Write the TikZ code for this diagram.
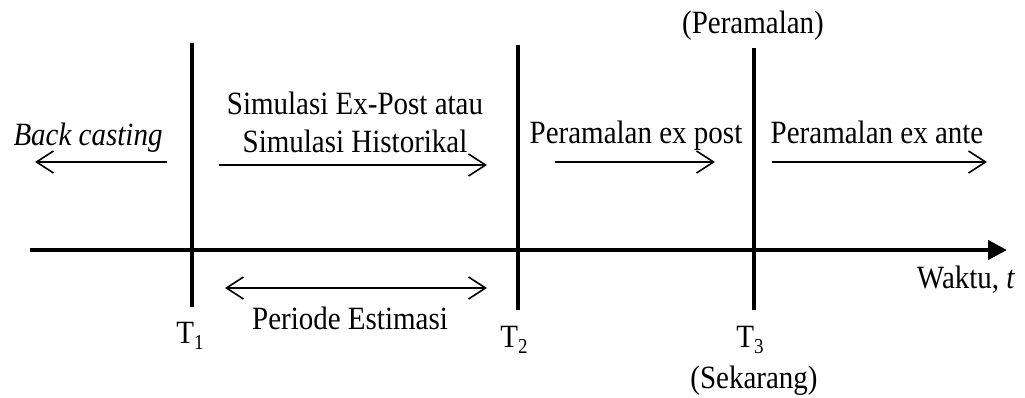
\documentclass[tikz,border=0pt]{standalone}
\usepackage{fontspec}
\usepackage{graphicx}
\setmainfont{Liberation Serif}
\usetikzlibrary{arrows.meta}
\tikzset{
  lbl/.style={anchor=base, inner sep=0pt, font=\fontsize{29}{33}\selectfont},
  period/.style={line width=1.6pt, -{Straight Barb[length=17pt,width=22pt,line width=1.6pt]}},
  twoway/.style={line width=1.6pt, {Straight Barb[length=17pt,width=22pt,line width=1.6pt]}-{Straight Barb[length=17pt,width=22pt,line width=1.6pt]}},
  mark line/.style={line width=3.5pt},
  axis/.style={line width=4.5pt, -{Triangle[length=19pt,width=19pt]}}
}
% slightly tall lettering
\newcommand{\tall}[1]{\scalebox{1}[1.12]{#1}}
\newcommand{\Tsub}[1]{\tall{T\raisebox{-6pt}{\fontsize{19}{19}\selectfont #1}}}
\begin{document}
\begin{tikzpicture}[x=1pt,y=-1pt]
  \useasboundingbox (0,0) rectangle (1025,397);

  % time axis
  \coordinate (ax0) at (30,250);
  \coordinate (ax1) at (1007,250);
  \draw[axis] (ax0) -- (ax1);

  % markers T1, T2, T3
  \coordinate (t1top) at (192,43);  \coordinate (t1bot) at (192,307);
  \coordinate (t2top) at (518,45);  \coordinate (t2bot) at (518,310);
  \coordinate (t3top) at (754,48);  \coordinate (t3bot) at (754,310);
  \draw[mark line] (t1top) -- (t1bot);
  \draw[mark line] (t2top) -- (t2bot);
  \draw[mark line] (t3top) -- (t3bot);

  % period arrows
  \coordinate (bc0) at (167,162); \coordinate (bc1) at (35,162);
  \coordinate (sh0) at (219,165); \coordinate (sh1) at (487,165);
  \coordinate (pe0) at (225,288); \coordinate (pe1) at (487,288);
  \coordinate (xp0) at (555,162); \coordinate (xp1) at (715,162);
  \coordinate (xa0) at (772,162); \coordinate (xa1) at (987,162);
  \draw[period] (bc0) -- (bc1);
  \draw[period] (sh0) -- (sh1);
  \draw[twoway] (pe0) -- (pe1);
  \draw[period] (xp0) -- (xp1);
  \draw[period] (xa0) -- (xa1);

  % labels
  \node[lbl] (backcast) at (88,145) {\tall{\itshape Back casting}};
  \node[lbl] (sim1) at (355,114) {\tall{Simulasi Ex-Post atau}};
  \node[lbl] (sim2) at (355,152) {\tall{Simulasi Historikal}};
  \node[lbl] (expost) at (636,143) {\tall{Peramalan ex post}};
  \node[lbl] (exante) at (877,143) {\tall{Peramalan ex ante}};
  \node[lbl] (fc) at (753,33) {\tall{(Peramalan)}};
  \node[lbl] (estim) at (350,329) {\tall{Periode Estimasi}};
  \node[lbl] (waktu) at (966,288) {\tall{Waktu, \textit{t}}};
  \node[lbl] (lt1) at (190,343) {\Tsub{1}};
  \node[lbl] (lt2) at (514,347) {\Tsub{2}};
  \node[lbl] (lt3) at (750,347) {\Tsub{3}};
  \node[lbl] (now) at (754,388) {\tall{(Sekarang)}};
\end{tikzpicture}
\end{document}
